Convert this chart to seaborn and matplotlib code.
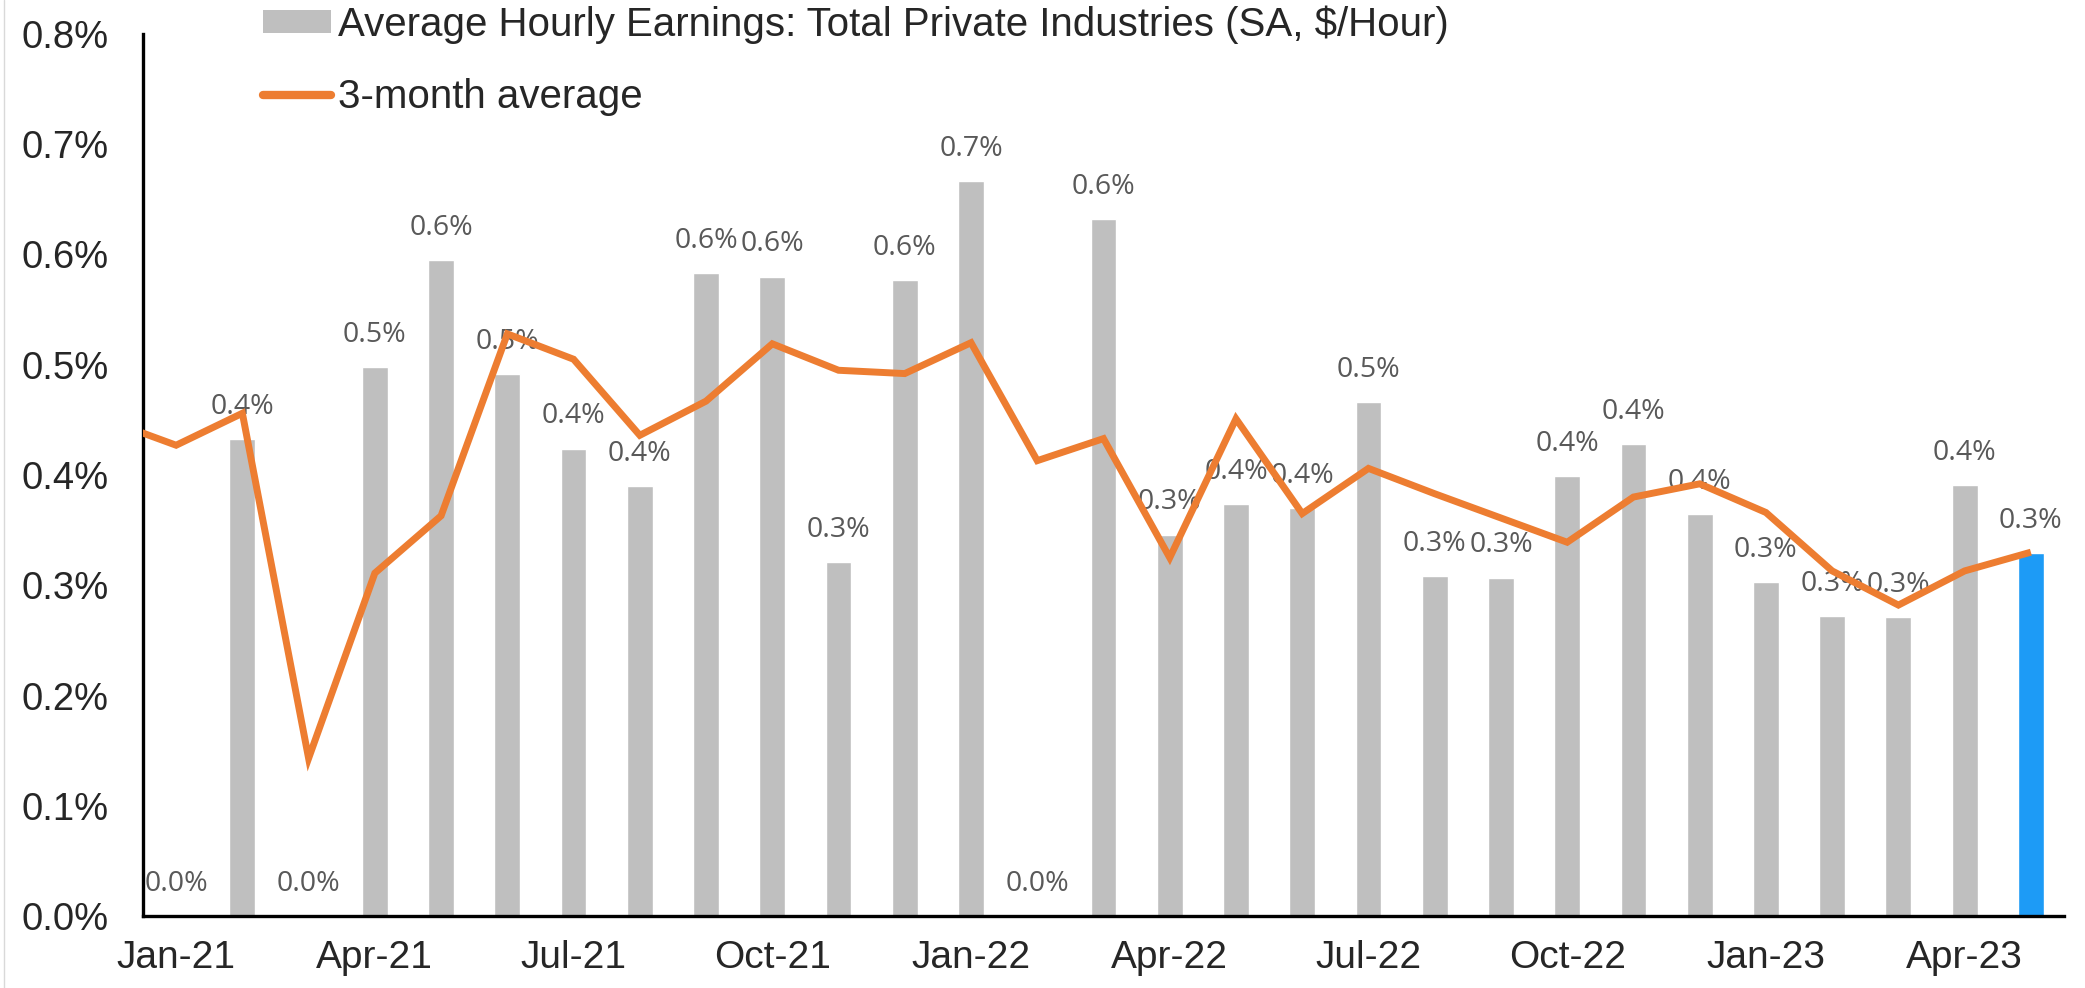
import numpy as np
import pandas as pd
import matplotlib
matplotlib.use('Agg')
import matplotlib.pyplot as plt
import matplotlib.transforms as mtransforms
from matplotlib.patches import Patch
from matplotlib.lines import Line2D
from matplotlib.ticker import FuncFormatter
import seaborn as sns

# Données (variation mensuelle en %)
months = pd.date_range('2021-01-01', periods=29, freq='MS').strftime('%b-%y').tolist()
ahe_mom = [0.0, 0.433, 0.0, 0.498, 0.595, 0.492, 0.424, 0.390, 0.583, 0.580,
           0.321, 0.577, 0.667, 0.0, 0.632, 0.346, 0.374, 0.370, 0.466, 0.308,
           0.307, 0.399, 0.428, 0.365, 0.303, 0.272, 0.271, 0.391, 0.329]
# moyenne 3 mois, commence en Dec-20 (coupée au bord gauche de l'axe)
avg3m_months = ['Dec-20'] + months
avg3m = [0.449, 0.427, 0.456, 0.143, 0.311, 0.363, 0.528, 0.505, 0.436, 0.467,
         0.519, 0.495, 0.492, 0.520, 0.413, 0.433, 0.325, 0.451, 0.365, 0.406,
         0.383, 0.361, 0.339, 0.380, 0.392, 0.366, 0.313, 0.282, 0.313, 0.330]

bar_name = 'Average Hourly Earnings: Total Private Industries (SA, $/Hour)'
line_name = '3-month average'

GRAY = '#BFBFBF'
BLUE = '#1D9BF6'
ORANGE = '#ED7D31'
LABEL = '#595959'

sns.set_theme(style='white')
plt.rcParams['font.family'] = ['Liberation Sans', 'DejaVu Sans']

fig = plt.figure(figsize=(20.85, 9.88), dpi=100)
ax = fig.add_axes([143 / 2085, 72 / 988, (2064 - 143) / 2085, (916 - 34) / 988])

# Barres
df = pd.DataFrame({'pos': np.arange(len(months)), 'ahe': ahe_mom})
sns.barplot(data=df, x='pos', y='ahe', color=GRAY, saturation=1, width=0.39,
            ax=ax, zorder=2)
ax.patches[-1].set_facecolor(BLUE)

ax.bar_label(ax.containers[0], labels=[f'{v:.1f}%' for v in ahe_mom],
             padding=13, fontsize=20.5, color=LABEL,
             family=['Open Sans', 'DejaVu Sans'], zorder=3)

# Ligne moyenne 3 mois
line_x = np.arange(-1, len(months))
ax.plot(line_x, avg3m, color=ORANGE, lw=5, zorder=5,
        solid_joinstyle='miter', solid_capstyle='butt')

# Axes
ax.set_xlim(-0.5, len(months) - 0.5)
ax.set_ylim(0, 0.8)
ax.set_yticks(np.arange(0, 0.81, 0.1))
ax.yaxis.set_major_formatter(FuncFormatter(lambda v, p: f'{v:.1f}%'))
ax.set_xlabel('')
ax.set_ylabel('')

bounds = np.arange(len(months) + 1) - 0.5
ax.set_xticks(bounds[:-1:3])
ax.set_xticklabels(months[::3])
ax.set_xticks([b for i, b in enumerate(bounds) if i % 3], minor=True)

ax.tick_params(axis='x', which='major', direction='inout', length=14, width=2,
               color='black', labelsize=28, pad=10)
ax.tick_params(axis='x', which='minor', direction='in', length=7, width=2,
               color='black')
ax.tick_params(axis='y', direction='out', length=9.5, width=2, color='black',
               labelsize=27.5, pad=15)

# étiquettes au centre du mois
shift = mtransforms.ScaledTranslation(0.331, 0, fig.dpi_scale_trans)
for lab in ax.get_xticklabels():
    lab.set_transform(lab.get_transform() + shift)

for s in ['top', 'right']:
    ax.spines[s].set_visible(False)
for s in ['left', 'bottom']:
    ax.spines[s].set_color('black')
    ax.spines[s].set_linewidth(2.4)

# Légende
handles = [Patch(facecolor=GRAY, edgecolor='none'),
           Line2D([0], [0], color=ORANGE, lw=6, solid_capstyle='round')]
ax.legend(handles, [bar_name, line_name], loc='upper left',
          bbox_to_anchor=(263 / 2085, 1 - 5 / 988), bbox_transform=fig.transFigure,
          frameon=False, fontsize=29, handlelength=1.7, handleheight=0.5,
          handletextpad=0.15, labelspacing=0.85, borderpad=0, borderaxespad=0)

# bord gauche du graphique
fig.add_artist(Line2D([4 / 2085, 4 / 2085], [0, 1], transform=fig.transFigure,
                      color='#D9D9D9', lw=1))

fig.savefig('out.png', dpi=100)
